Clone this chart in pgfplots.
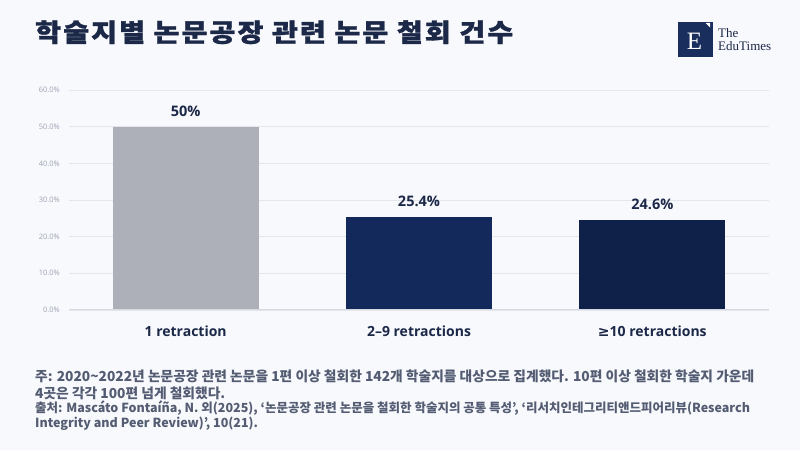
\documentclass[border=0pt]{standalone}
\usepackage{pgfplots}
\pgfplotsset{compat=1.18}
\usepackage{fontspec}
\setmainfont{Open Sans}
\newfontfamily\dejavu{DejaVu Sans}
\newfontfamily\krtitle[FakeStretch=1.12,LetterSpace=8,BoldFeatures={FakeBold=1.2}]{Noto Sans CJK KR}
\newfontfamily\kr{Noto Sans CJK KR}
\newfontfamily\seriff{Liberation Serif}
\definecolor{bg}{HTML}{F8F9FC}
\definecolor{gridc}{HTML}{E3E6EC}
\definecolor{axisc}{HTML}{D6D9E0}
\definecolor{tickc}{HTML}{9CA3B4}
\definecolor{navy}{HTML}{1B2848}
\definecolor{bA}{HTML}{ADB0B9}
\definecolor{bB}{HTML}{13295B}
\definecolor{bC}{HTML}{0F2049}
\definecolor{notec}{HTML}{535C72}
\definecolor{logoc}{HTML}{1A2E5E}
\begin{document}
\begin{tikzpicture}[x=1pt,y=1pt]
\fill[bg] (0,0) rectangle (800,450);
\useasboundingbox (0,0) rectangle (800,450);
% title
\node[anchor=base west, inner sep=0, text=navy, font=\krtitle\bfseries\fontsize{25.2}{30}\selectfont] at (35,408.3) {학술지별 논문공장 관련 논문 철회 건수};
% logo
\fill[logoc] (678,393) rectangle (713,428);
\node[anchor=base, inner sep=0, text=white, font=\seriff\fontsize{25}{25}\selectfont] at (694.5,400.7) {E};
\fill[white] (705.5,427) -- (710,427) -- (710,422.5) -- cycle;
\node[anchor=base west, inner sep=0, text=navy, font=\seriff\fontsize{13}{13}\selectfont] at (718,412.3) {The};
\node[anchor=base west, inner sep=0, text=navy, font=\seriff\fontsize{13}{13}\selectfont] at (718,399.6) {EduTimes};
% chart
\begin{axis}[
  at={(69pt,140pt)}, anchor=south west,
  scale only axis, width=700pt, height=220pt,
  xmin=-0.5, xmax=2.5, ymin=0, ymax=60,
  axis line style={draw=none},
  major tick length=0pt,
  ytick={0,10,20,30,40,50,60},
  ymajorgrids, grid style={color=gridc, line width=0.8pt},
  /pgf/number format/assume math mode=true,
  yticklabel={\pgfmathprintnumber[fixed,fixed zerofill,precision=1]{\tick}\%},
  yticklabel style={font=\fontsize{7.5}{8}\selectfont, text=tickc, anchor=east, inner sep=0pt, xshift=-9pt},
  xtick={0,1,2},
  xticklabels={1 retraction, 2–9 retractions, {{\dejavu\bfseries ≥}10 retractions}},
  xticklabel style={font=\bfseries\fontsize{14}{16}\selectfont, text=navy, anchor=base, inner sep=0pt, yshift=-26.7pt},
  ybar, bar width=146pt,
  nodes near coords={\pgfmathprintnumber{\pgfplotspointmeta}\%},
  nodes near coords style={font=\bfseries\fontsize{14.5}{16}\selectfont, text=navy, anchor=base, inner sep=0pt, yshift=10pt},
  clip=false,
]
\addplot[fill=bA, draw=none, bar shift=0pt] coordinates {(0,50)};
\addplot[fill=bB, draw=none, bar shift=0pt] coordinates {(1,25.4)};
\addplot[fill=bC, draw=none, bar shift=0pt] coordinates {(2,24.6)};
\draw[color=axisc, line width=1pt] (axis cs:-0.5,0) -- (axis cs:2.5,0);
\end{axis}
% notes
\begin{scope}[every node/.style={anchor=base west, inner sep=0, text=notec}]
\node[font=\kr\bfseries\fontsize{13.75}{16}\selectfont] at (35,69) {주: 2020\textasciitilde 2022년 논문공장 관련 논문을 1편 이상 철회한 142개 학술지를 대상으로 집계했다. 10편 이상 철회한 학술지 가운데};
\node[font=\kr\bfseries\fontsize{13.75}{16}\selectfont] at (35,52) {4곳은 각각 100편 넘게 철회했다.};
\node[font=\kr\bfseries\fontsize{12.5}{15}\selectfont] at (35,37.7) {출처: Mascáto Fontaíña, N. 외(2025), ‘논문공장 관련 논문을 철회한 학술지의 공통 특성’, ‘리서치인테그리티앤드피어리뷰(Research};
\node[font=\kr\bfseries\fontsize{12.5}{15}\selectfont] at (35,22.3) {Integrity and Peer Review)’, 10(21).};
\end{scope}
\end{tikzpicture}
\end{document}
